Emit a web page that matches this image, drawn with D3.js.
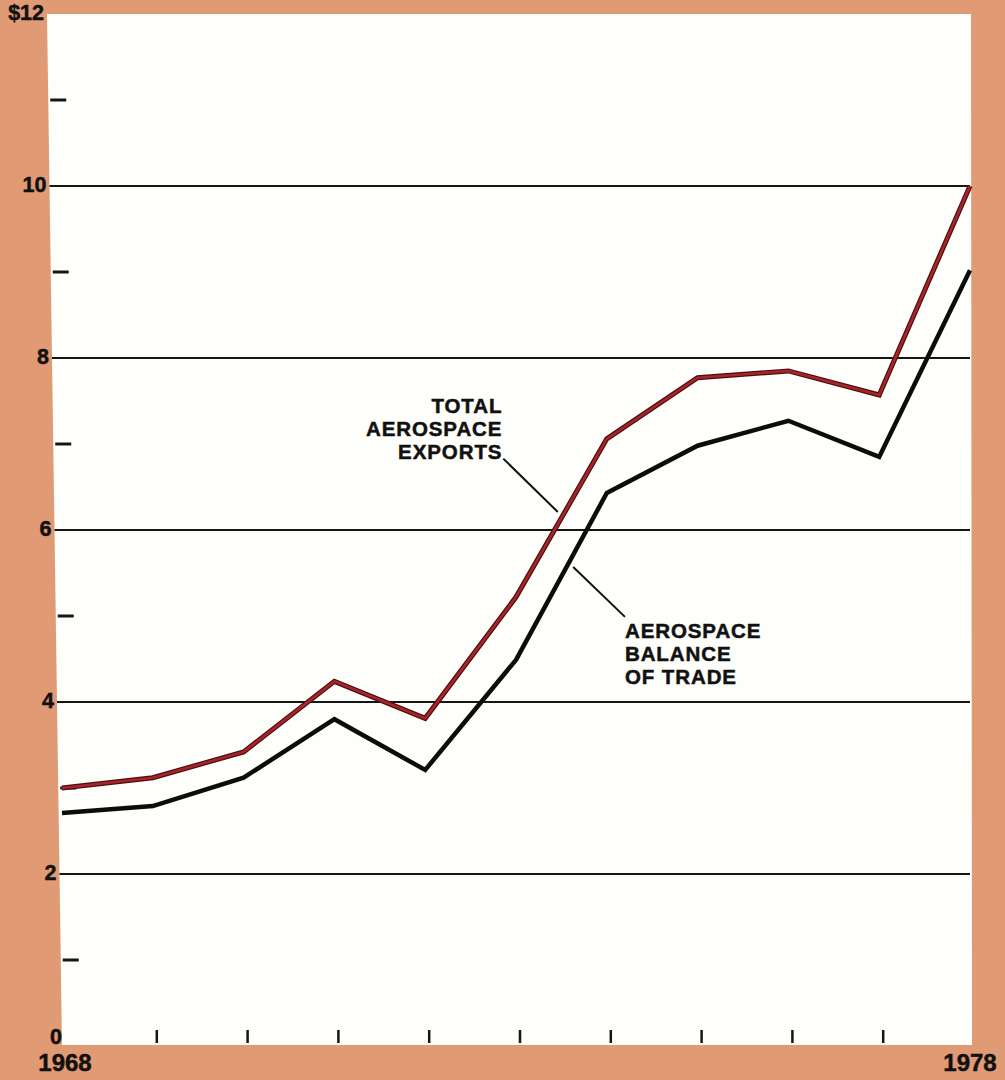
<!DOCTYPE html>
<html>
<head>
<meta charset="utf-8">
<script src="https://cdn.jsdelivr.net/npm/d3@7"></script>
<style>
  html, body { margin: 0; padding: 0; background: #E09A74; }
  svg { display: block; }
  text { font-family: "Liberation Sans", Arial, Helvetica, sans-serif; font-weight: bold; fill: #111; stroke: #111; stroke-width: 0.5px; }
</style>
</head>
<body>
<svg id="chart" width="1005" height="1080"></svg>
<script>
// Aerospace exports and balance of trade, billions of dollars
const years = [1968, 1969, 1970, 1971, 1972, 1973, 1974, 1975, 1976, 1977, 1978];
const totalExports = [3.0, 3.12, 3.42, 4.24, 3.81, 5.22, 7.06, 7.77, 7.85, 7.57, 10.0];
const balanceOfTrade = [2.71, 2.79, 3.12, 3.8, 3.21, 4.49, 6.43, 6.98, 7.27, 6.85, 9.02];

const gridValues = [2, 4, 6, 8, 10];
const minorTickValues = [1, 3, 5, 7, 9, 11];
const yLabelValues = [0, 2, 4, 6, 8, 10, 12];
const yLabelText = ["0", "2", "4", "6", "8", "10", "$12"];
const xLabelYears = [1968, 1978];
const xTickYears = [1969, 1970, 1971, 1972, 1973, 1974, 1975, 1976, 1977];

const exportsLabel = ["TOTAL", "AEROSPACE", "EXPORTS"];
const balanceLabel = ["AEROSPACE", "BALANCE", "OF TRADE"];

const svg = d3.select("#chart");

const x = d3.scaleLinear().domain([1968, 1978]).range([62, 970]);
const y = d3.scaleLinear().domain([0, 12]).range([1046, 14]);

// the printed panel sits slightly askew: its left edge drifts right toward the bottom
const leftEdge = py => 47 + (py - y(12)) * (15 / (y(0) - y(12)));

// white plotting panel
svg.append("path")
  .attr("d", d3.line()([
    [leftEdge(y(12)), y(12)],
    [x(1978) + 1, y(12)],
    [x(1978) + 2, y(0) - 1],
    [leftEdge(y(0)), y(0) - 1]
  ]) + "Z")
  .attr("fill", "#FEFEFB");

// horizontal grid lines
svg.append("g").selectAll("line")
  .data(gridValues)
  .join("line")
  .attr("x1", d => leftEdge(y(d)))
  .attr("x2", x(1978))
  .attr("y1", d => y(d))
  .attr("y2", d => y(d))
  .attr("stroke", "#151515")
  .attr("stroke-width", 2);

// short ticks at the odd values
svg.append("g").selectAll("line")
  .data(minorTickValues)
  .join("line")
  .attr("x1", d => leftEdge(y(d)) + 2)
  .attr("x2", d => leftEdge(y(d)) + 18)
  .attr("y1", d => y(d))
  .attr("y2", d => y(d))
  .attr("stroke", "#151515")
  .attr("stroke-width", 3);

// year ticks along the base
svg.append("g").selectAll("line")
  .data(xTickYears)
  .join("line")
  .attr("x1", d => x(d) + 4)
  .attr("x2", d => x(d) + 4)
  .attr("y1", y(0) - 16)
  .attr("y2", y(0) - 3)
  .attr("stroke", "#151515")
  .attr("stroke-width", 2.5);

// value labels on the left
svg.append("g").selectAll("text")
  .data(yLabelValues)
  .join("text")
  .attr("x", d => leftEdge(y(d)) - (d === 0 ? 0 : 3))
  .attr("y", d => d === 0 ? y(d) - 2 : y(d) + 6)
  .attr("text-anchor", "end")
  .attr("font-size", 21.5)
  .text((d, i) => yLabelText[i]);

// year labels at the ends
svg.append("g").selectAll("text")
  .data(xLabelYears)
  .join("text")
  .attr("x", d => x(d) + (d === 1968 ? 3 : 0))
  .attr("y", 1071)
  .attr("text-anchor", "middle")
  .attr("font-size", 24)
  .text(d => d);

const line = d3.line()
  .x((d, i) => x(years[i]))
  .y(d => y(d))
  .curve(d3.curveLinear);

// balance of trade: black
svg.append("path")
  .attr("d", line(balanceOfTrade))
  .attr("fill", "none")
  .attr("stroke", "#0c0c0c")
  .attr("stroke-width", 4.5)
  .attr("stroke-linejoin", "miter");

// total exports: dark-edged red
svg.append("path")
  .attr("d", line(totalExports))
  .attr("fill", "none")
  .attr("stroke", "#4a0f10")
  .attr("stroke-width", 5)
  .attr("stroke-linejoin", "miter");
svg.append("path")
  .attr("d", line(totalExports))
  .attr("fill", "none")
  .attr("stroke", "#A8242A")
  .attr("stroke-width", 2.6)
  .attr("stroke-linejoin", "miter");

// callout for exports
const exportsText = { year: 1972.85, value: 7.36 };
const exportsLeader = [[1972.86, 6.83], [1973.46, 6.21]];
svg.append("text")
  .attr("x", x(exportsText.year))
  .attr("y", y(exportsText.value))
  .attr("text-anchor", "end")
  .attr("font-size", 20.5)
  .attr("letter-spacing", 0.9)
  .selectAll("tspan")
  .data(exportsLabel)
  .join("tspan")
  .attr("x", x(exportsText.year))
  .attr("dy", (d, i) => i === 0 ? 0 : 23)
  .text(d => d);
svg.append("line")
  .attr("x1", x(exportsLeader[0][0])).attr("y1", y(exportsLeader[0][1]))
  .attr("x2", x(exportsLeader[1][0])).attr("y2", y(exportsLeader[1][1]))
  .attr("stroke", "#111").attr("stroke-width", 2);

// callout for balance of trade
const balanceText = { year: 1974.2, value: 4.74 };
const balanceLeader = [[1973.63, 5.57], [1974.2, 4.99]];
svg.append("text")
  .attr("x", x(balanceText.year))
  .attr("y", y(balanceText.value))
  .attr("text-anchor", "start")
  .attr("font-size", 20.5)
  .attr("letter-spacing", 0.9)
  .selectAll("tspan")
  .data(balanceLabel)
  .join("tspan")
  .attr("x", x(balanceText.year))
  .attr("dy", (d, i) => i === 0 ? 0 : 23)
  .text(d => d);
svg.append("line")
  .attr("x1", x(balanceLeader[0][0])).attr("y1", y(balanceLeader[0][1]))
  .attr("x2", x(balanceLeader[1][0])).attr("y2", y(balanceLeader[1][1]))
  .attr("stroke", "#111").attr("stroke-width", 2);
</script>
</body>
</html>
